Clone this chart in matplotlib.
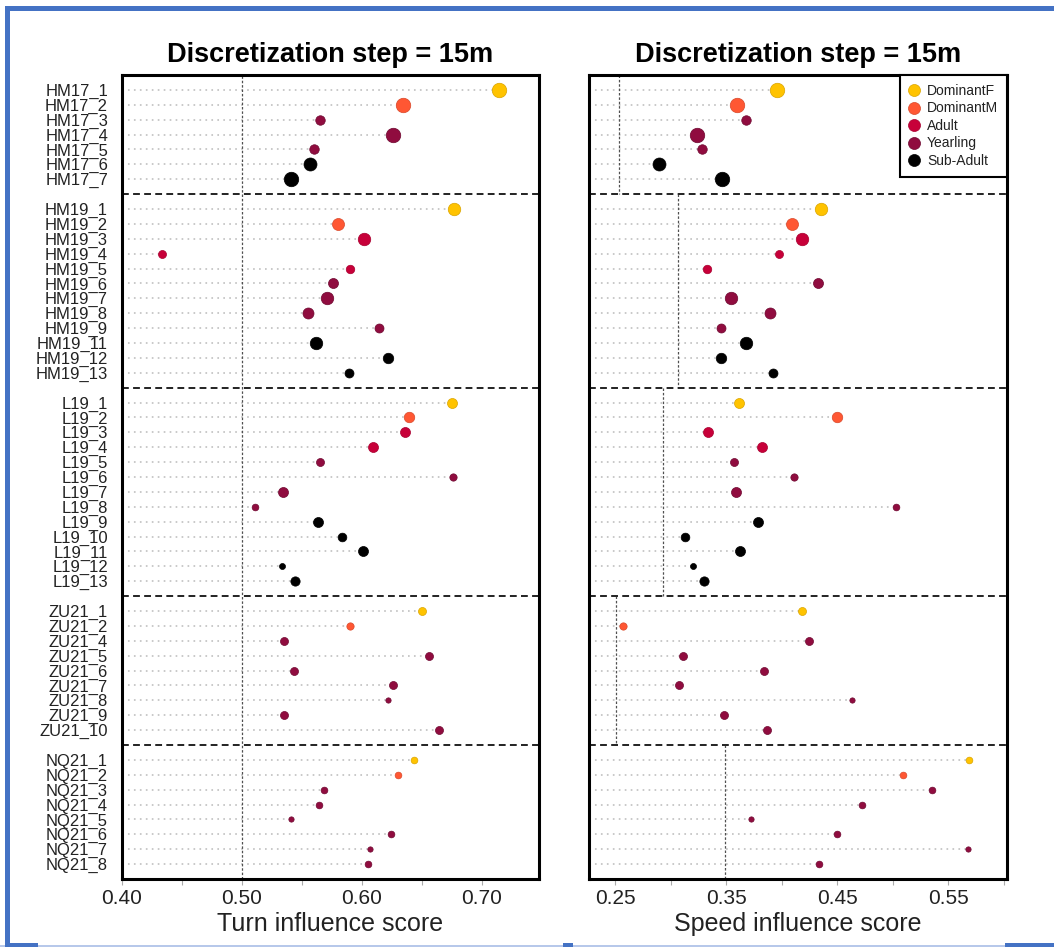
import numpy as np
import matplotlib
matplotlib.use('Agg')
import matplotlib.pyplot as plt
from matplotlib.lines import Line2D
from matplotlib.patches import Rectangle

plt.rcParams['font.family'] = ['Liberation Sans', 'DejaVu Sans']

# ---- data -------------------------------------------------------------
groups = ['HM17', 'HM19', 'L19', 'ZU21', 'NQ21']
group_ids = {
    'HM17': ['1', '2', '3', '4', '5', '6', '7'],
    'HM19': ['1', '2', '3', '4', '5', '6', '7', '8', '9', '11', '12', '13'],
    'L19': ['1', '2', '3', '4', '5', '6', '7', '8', '9', '10', '11', '12', '13'],
    'ZU21': ['1', '2', '4', '5', '6', '7', '8', '9', '10'],
    'NQ21': ['1', '2', '3', '4', '5', '6', '7', '8'],
}
# F = DominantF, M = DominantM, A = Adult, Y = Yearling, S = Sub-Adult
group_class = {
    'HM17': 'FMYYYSS',
    'HM19': 'FMAAAYYYYSSS',
    'L19': 'FMAAYYYYSSSSS',
    'ZU21': 'FMYYYYYYY',
    'NQ21': 'FMYYYYYY',
}
turn_score = {
    'HM17': [0.714, 0.634, 0.565, 0.626, 0.560, 0.557, 0.541],
    'HM19': [0.677, 0.580, 0.602, 0.433, 0.590, 0.576, 0.571, 0.555, 0.614, 0.562, 0.622, 0.589],
    'L19': [0.675, 0.639, 0.636, 0.609, 0.565, 0.676, 0.534, 0.511, 0.563, 0.583, 0.601, 0.533, 0.544],
    'ZU21': [0.650, 0.590, 0.535, 0.656, 0.543, 0.626, 0.622, 0.535, 0.664],
    'NQ21': [0.643, 0.630, 0.568, 0.564, 0.541, 0.624, 0.607, 0.605],
}
speed_score = {
    'HM17': [0.396, 0.360, 0.3675, 0.3235, 0.328, 0.2896, 0.3465],
    'HM19': [0.4355, 0.409, 0.418, 0.398, 0.333, 0.4325, 0.354, 0.3897, 0.345, 0.368, 0.345, 0.392],
    'L19': [0.362, 0.450, 0.334, 0.3825, 0.357, 0.411, 0.359, 0.5025, 0.379, 0.313, 0.3625, 0.320, 0.3297],
    'ZU21': [0.418, 0.2575, 0.425, 0.3115, 0.384, 0.308, 0.463, 0.348, 0.387],
    'NQ21': [0.5687, 0.509, 0.535, 0.472, 0.372, 0.450, 0.5676, 0.4335],
}
# point size (diameter in px)
dot_size = {
    'HM17': [14.5, 14.5, 9.5, 14.5, 9.5, 13, 14.5],
    'HM19': [12.5, 12, 12.5, 8, 8.5, 10, 12.5, 11, 9, 12.5, 10.5, 9],
    'L19': [10, 10.5, 10, 10, 8, 7.3, 10, 6.7, 10, 8.7, 10, 6, 9.3],
    'ZU21': [8, 7.3, 8, 8, 8, 8, 5.3, 8, 8],
    'NQ21': [6.7, 6.7, 6.7, 6.7, 5.3, 6.7, 5.3, 6.7],
}
turn_ref = 0.50
speed_ref = {'HM17': 0.254, 'HM19': 0.307, 'L19': 0.2935, 'ZU21': 0.251, 'NQ21': 0.349}

class_names = ['DominantF', 'DominantM', 'Adult', 'Yearling', 'Sub-Adult']
class_keys = ['F', 'M', 'A', 'Y', 'S']
class_colors = ['#FFC300', '#FF5733', '#C70039', '#900C3F', '#000000']
edge_colors = ['#D9A400', '#D8482A', '#A8002F', '#6E0830', '#000000']

# ---- layout of rows ---------------------------------------------------
rows = []      # (group, label, cls, turn, speed, size, ypos)
seps = []
y = 1
for gi, g in enumerate(groups):
    for k, i in enumerate(group_ids[g]):
        rows.append((g, g + '_' + i, group_class[g][k], turn_score[g][k],
                     speed_score[g][k], dot_size[g][k], y))
        y += 1
    if gi < len(groups) - 1:
        seps.append(y)
        y += 1
bounds = [0] + seps + [54]

W, H = 1054, 947
fig = plt.figure(figsize=(W / 100, H / 100), dpi=100)
ax1 = fig.add_axes([122 / W, 1 - 879 / H, 417 / W, 804 / H])
ax2 = fig.add_axes([589 / W, 1 - 879 / H, 418 / W, 804 / H])

px2pt = 0.72


def draw(ax, which, xlim):
    ax.set_xlim(*xlim)
    ax.set_ylim(54, 0)
    for (g, lab, c, t, s, sz, yy) in rows:
        v = t if which == 'turn' else s
        ci = class_keys.index(c)
        ax.plot([xlim[0], v], [yy, yy], color='#bbbbbb', lw=1.1,
                linestyle=(0, (1.1, 2.8)), zorder=1)
        ax.scatter([v], [yy], s=(sz * px2pt) ** 2, color=class_colors[ci],
                   edgecolors=edge_colors[ci], linewidths=0.5, zorder=3)
    for sy in seps:
        ax.axhline(sy, color='#222222', lw=1.4, linestyle=(0, (3.5, 2.2)), zorder=2)
    if which == 'turn':
        ax.axvline(turn_ref, color='#505050', lw=0.9, linestyle=(0, (2, 1.5)), zorder=1.5)
    else:
        for gi, g in enumerate(groups):
            ax.plot([speed_ref[g]] * 2, [bounds[gi], bounds[gi + 1]],
                    color='#505050', lw=0.9, linestyle=(0, (2, 1.5)), zorder=1.5)
    for sp in ax.spines.values():
        sp.set_linewidth(2.2)
        sp.set_color('black')
    ax.tick_params(axis='x', which='both', length=4, width=0.8, color='#aaaaaa',
                   labelsize=15, labelcolor='#222222', pad=3)


draw(ax1, 'turn', (0.40, 0.7475))
draw(ax2, 'speed', (0.2266, 0.6028))

ax1.set_xticks([0.40, 0.50, 0.60, 0.70])
ax1.set_xticklabels(['0.40', '0.50', '0.60', '0.70'])
ax1.set_xticks([0.45, 0.55, 0.65], minor=True)
ax2.set_xticks([0.25, 0.35, 0.45, 0.55])
ax2.set_xticklabels(['0.25', '0.35', '0.45', '0.55'])
ax2.set_xticks([0.30, 0.40, 0.50, 0.60], minor=True)

ax1.set_yticks([r[6] for r in rows])
ax1.set_yticklabels([r[1] for r in rows], fontsize=12, color='#222222')
ax1.tick_params(axis='y', length=0, pad=10)
ax2.set_yticks([])

ax1.set_xlabel('Turn influence score', fontsize=18, color='#222222', labelpad=3)
ax2.set_xlabel('Speed influence score', fontsize=18, color='#222222', labelpad=3)
ax1.set_title('Discretization step = 15m', fontsize=19.5, fontweight='bold', pad=9)
ax2.set_title('Discretization step = 15m', fontsize=19.5, fontweight='bold', pad=9)

handles = [Line2D([], [], marker='o', linestyle='none', markersize=12 * px2pt,
                  markerfacecolor=class_colors[i], markeredgecolor=edge_colors[i],
                  markeredgewidth=0.5) for i in range(5)]
leg = ax2.legend(handles, class_names, loc='upper right', borderaxespad=0,
                 fontsize=10, labelspacing=0.25, handlelength=0.8, handletextpad=0.5,
                 borderpad=0.65, fancybox=False, framealpha=1)
leg.get_frame().set_edgecolor('black')
leg.get_frame().set_linewidth(1.5)
for t in leg.get_texts():
    t.set_color('#222222')

# blue page border
blue = '#4472C4'
fig.add_artist(Rectangle((5 / W, 1 - 11 / H), 1 - 5 / W, 5 / H, transform=fig.transFigure,
                         color=blue, lw=0))
fig.add_artist(Rectangle((5 / W, 1 - 947 / H), 5 / W, 936 / H, transform=fig.transFigure,
                         color=blue, lw=0))
fig.add_artist(Rectangle((0, 1 - 947 / H), 1, 2 / H, transform=fig.transFigure,
                         color='#b7c8ea', lw=0))
for x0, x1 in [(5, 38), (563, 573), (1005, 1054)]:
    fig.add_artist(Rectangle((x0 / W, 1 - 947 / H), (x1 - x0) / W, 4 / H,
                             transform=fig.transFigure, color=blue, lw=0))

fig.savefig('out.png', dpi=100)
